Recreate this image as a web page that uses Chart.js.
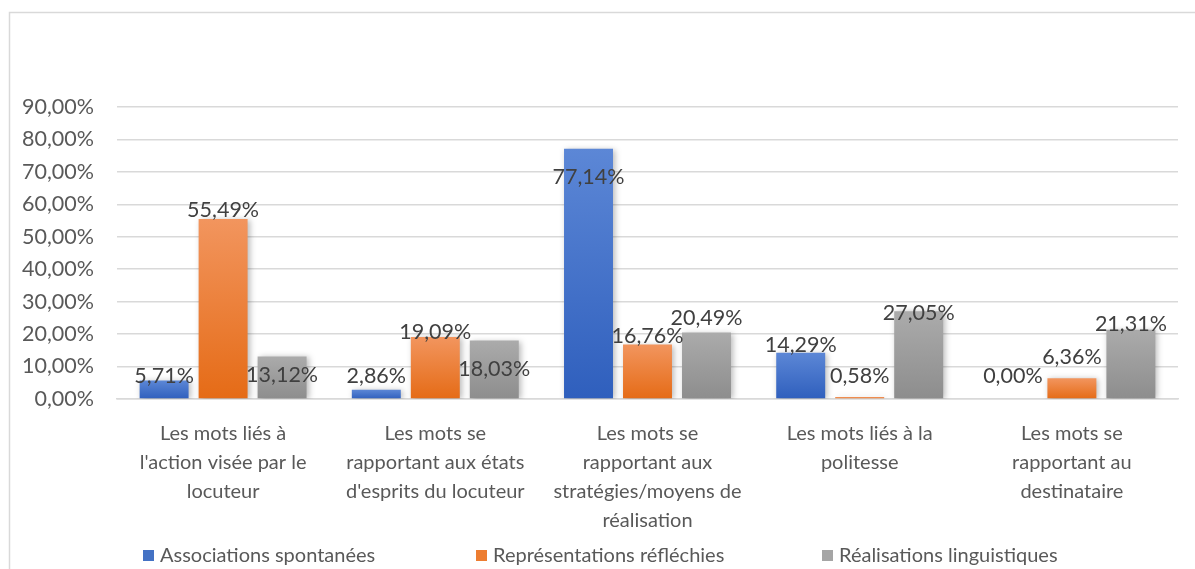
<!DOCTYPE html>
<html>
<head>
<meta charset="utf-8">
<script src="https://cdn.jsdelivr.net/npm/chart.js@4.4.1/dist/chart.umd.min.js"></script>
<style>
  html, body { margin: 0; padding: 0; background: #fff; }
  #wrap { width: 1195px; height: 569px; }
</style>
</head>
<body>
<div id="wrap"><canvas id="chart" width="1195" height="569"></canvas></div>
<script>
/*******************
 * DATA
 ******************/
const categories = [
    ['Les mots liés à', "l'action visée par le", 'locuteur'],
    ['Les mots se', 'rapportant aux états', "d'esprits du locuteur"],
    ['Les mots se', 'rapportant aux', 'stratégies/moyens de', 'réalisation'],
    ['Les mots liés à la', 'politesse'],
    ['Les mots se', 'rapportant au', 'destinataire']
];
const seriesNames = ['Associations spontanées', 'Représentations réfléchies', 'Réalisations linguistiques'];
const associations = [5.71, 2.86, 77.14, 14.29, 0.00];
const representations = [55.49, 19.09, 16.76, 0.58, 6.36];
const realisations = [13.12, 18.03, 20.49, 27.05, 21.31];
const yMin = 0;
const yMax = 90;
const yStep = 10;

/*******************
 * STYLE
 ******************/
const FONT = 'Lato';
const NUM_SIZE = 21.5;
const solidColours = ['#4472c4', '#ed7d31', '#a5a5a5'];
const gradColours = [
    ['#5c87d6', '#2f5fbd'],
    ['#f2955e', '#e56b16'],
    ['#ababab', '#8d8d8d']
];
// vertical nudge (px) of each value label from its bar top, as placed in the original
const labelNudge = [
    [-4, -14, 28, -8, -23],
    [-9, -5, -9, -21, -21],
    [19, 29, -14, 2, -6]
];
const legendX = [143, 476, 822];
const legendY = 556;

function pct(v) {
    return v.toFixed(2).replace('.', ',') + '%';
}

function barGradient(context, idx) {
    const chart = context.chart;
    if (!chart.chartArea || context.type !== 'data') return solidColours[idx];
    const y = chart.scales.y;
    const top = y.getPixelForValue(context.raw);
    const bottom = y.getPixelForValue(0);
    if (bottom - top < 1) return gradColours[idx][1];
    const g = chart.ctx.createLinearGradient(0, top, 0, bottom);
    g.addColorStop(0, gradColours[idx][0]);
    g.addColorStop(1, gradColours[idx][1]);
    return g;
}

/*******************
 * PLUGINS
 ******************/
const framePlugin = {
    id: 'frame',
    beforeDraw(chart) {
        const ctx = chart.ctx;
        ctx.save();
        ctx.strokeStyle = '#d9d9d9';
        ctx.lineWidth = 1.5;
        ctx.beginPath();
        ctx.moveTo(9.5, chart.height);
        ctx.lineTo(9.5, 12.5);
        ctx.lineTo(chart.width, 12.5);
        ctx.stroke();
        ctx.restore();
    }
};

const barDecor = {
    id: 'barDecor',
    beforeDatasetsDraw(chart) {
        const ctx = chart.ctx;
        ctx.save();
        ctx.shadowColor = 'rgba(0,0,0,0.28)';
        ctx.shadowBlur = 6;
        ctx.shadowOffsetX = 2;
        ctx.shadowOffsetY = 1;
    },
    afterDatasetsDraw(chart) {
        const ctx = chart.ctx;
        ctx.restore();

        // value labels
        ctx.save();
        ctx.font = `${NUM_SIZE}px ${FONT}`;
        ctx.fillStyle = '#404040';
        ctx.textAlign = 'center';
        ctx.textBaseline = 'middle';
        chart.data.datasets.forEach((ds, d) => {
            const meta = chart.getDatasetMeta(d);
            meta.data.forEach((bar, i) => {
                ctx.fillText(pct(ds.data[i]), bar.x, bar.y + labelNudge[d][i]);
            });
        });
        ctx.restore();
    },
    afterDraw(chart) {
        // legend, spread out like the original
        const ctx = chart.ctx;
        ctx.save();
        ctx.font = `20px ${FONT}`;
        ctx.textBaseline = 'middle';
        ctx.textAlign = 'left';
        chart.data.datasets.forEach((ds, d) => {
            const x = legendX[d];
            ctx.fillStyle = solidColours[d];
            ctx.fillRect(x, legendY - 6, 11, 11);
            ctx.fillStyle = '#595959';
            ctx.fillText(ds.label, x + 17, legendY);
        });
        ctx.restore();
    }
};

/*******************
 * CHART
 ******************/
const seriesValues = [associations, representations, realisations];

new Chart(document.getElementById('chart'), {
    type: 'bar',
    data: {
        labels: categories,
        datasets: seriesValues.map((vals, idx) => ({
            label: seriesNames[idx],
            data: vals,
            backgroundColor: (c) => barGradient(c, idx),
            borderWidth: 0,
            categoryPercentage: 0.834,
            barPercentage: 0.83
        }))
    },
    options: {
        responsive: false,
        animation: false,
        layout: { padding: { top: 107, right: 17, left: 0, bottom: 0 } },
        plugins: {
            legend: { display: false },
            tooltip: { enabled: false }
        },
        scales: {
            x: {
                grid: { display: false },
                border: { display: true, color: '#d9d9d9', width: 1.5 },
                ticks: {
                    color: '#595959',
                    font: { family: FONT, size: 20, lineHeight: 1.45 },
                    padding: 12,
                    maxRotation: 0,
                    autoSkip: false
                },
                afterFit(scale) { scale.height = 170; }
            },
            y: {
                min: yMin,
                max: yMax,
                grid: { color: '#d9d9d9', lineWidth: 1.5, drawTicks: false },
                border: { display: false },
                ticks: {
                    stepSize: yStep,
                    color: '#595959',
                    font: { family: FONT, size: NUM_SIZE },
                    padding: 23,
                    callback: (v) => pct(v)
                },
                afterFit(scale) { scale.width = 117; }
            }
        }
    },
    plugins: [framePlugin, barDecor]
});
</script>
</body>
</html>
